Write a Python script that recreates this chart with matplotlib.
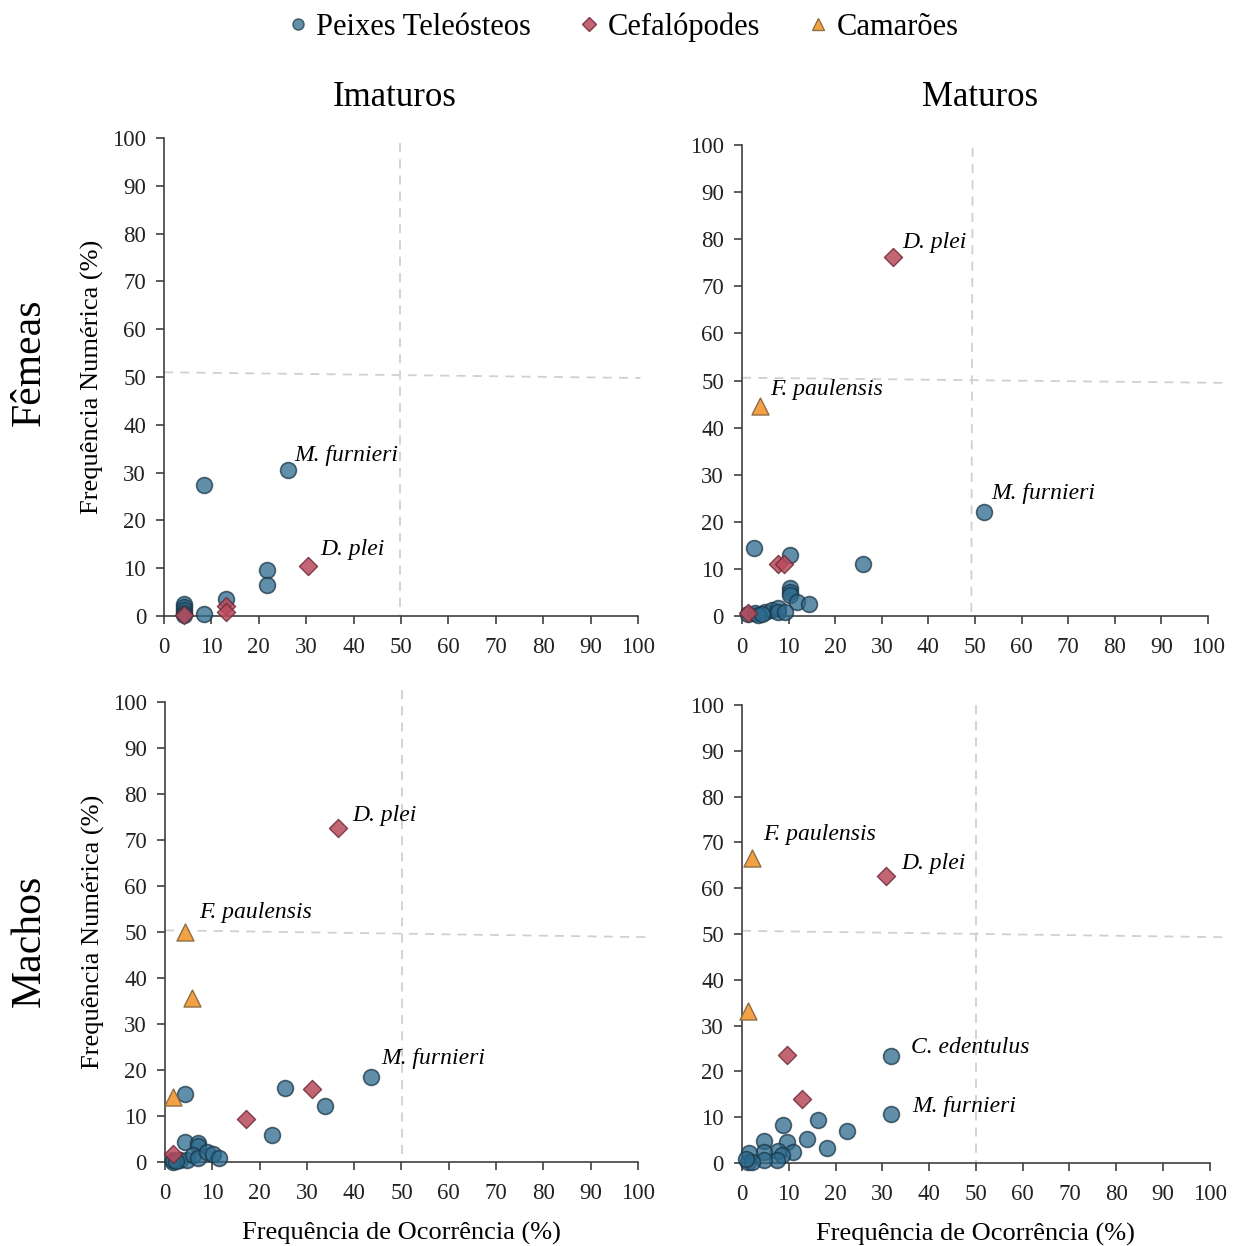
import matplotlib.pyplot as plt
from matplotlib.lines import Line2D

plt.rcParams['font.family'] = ['Liberation Serif', 'DejaVu Serif']

# Frequência de Ocorrência (x) e Frequência Numérica (y), em %
# Fêmeas imaturas
fi_fish_x = [8.4, 26.2, 21.7, 21.7, 13.1, 4.2, 4.2, 4.2, 4.2, 4.2, 8.4]
fi_fish_y = [27.4, 30.5, 9.6, 6.5, 3.5, 2.5, 1.8, 1.2, 0.6, 0.2, 0.4]
fi_ceph_x = [30.4, 13.1, 13.1, 4.2]
fi_ceph_y = [10.5, 2.0, 0.8, 0.3]
fi_shrimp_x = []
fi_shrimp_y = []

# Fêmeas maturas
fm_fish_x = [52.0, 2.6, 10.3, 26.0, 10.3, 10.3, 10.3, 11.7, 14.4, 1.2, 2.8, 5.0, 6.4, 7.8, 7.8, 9.2, 3.5, 4.2]
fm_fish_y = [22.0, 14.5, 12.9, 11.0, 5.9, 5.2, 4.4, 3.0, 2.5, 0.5, 0.6, 0.9, 1.3, 1.7, 0.9, 0.9, 0.3, 0.5]
fm_ceph_x = [32.5, 7.7, 9.1, 1.2]
fm_ceph_y = [76.2, 11.0, 11.0, 0.7]
fm_shrimp_x = [3.9]
fm_shrimp_y = [44.6]

# Machos imaturos
mi_fish_x = [4.2, 25.4, 43.6, 33.8, 22.6, 4.2, 7.0, 7.0, 1.6, 3.2, 4.6, 6.0, 7.0, 8.8, 10.2, 11.5, 1.6, 2.4]
mi_fish_y = [14.9, 16.0, 18.5, 12.2, 5.9, 4.4, 4.1, 3.5, 0.1, 0.4, 0.4, 1.5, 0.8, 2.2, 1.7, 0.8, 0.5, 0.2]
mi_ceph_x = [36.6, 31.1, 17.1, 1.6]
mi_ceph_y = [72.6, 15.9, 9.3, 1.7]
mi_shrimp_x = [4.2, 5.7, 1.6]
mi_shrimp_y = [50.0, 35.7, 14.2]

# Machos maturos
mm_fish_x = [31.8, 31.8, 16.2, 8.8, 22.5, 4.6, 9.7, 14.0, 18.1, 10.8, 7.6, 8.5, 7.4, 4.6, 4.6, 1.4, 1.2, 2.2, 0.8]
mm_fish_y = [23.4, 10.7, 9.4, 8.4, 7.0, 4.9, 4.5, 5.2, 3.2, 2.3, 2.6, 1.7, 0.7, 2.5, 0.7, 2.1, 0.3, 0.3, 0.8]
mm_ceph_x = [30.8, 9.6, 12.9]
mm_ceph_y = [62.7, 23.6, 13.9]
mm_shrimp_x = [2.1, 1.3]
mm_shrimp_y = [66.6, 33.2]

# rótulos das espécies: (texto, x, y)
fi_labels = [('M. furnieri', 27.4, 32.4), ('D. plei', 32.9, 12.8)]
fm_labels = [('D. plei', 34.3, 78.1), ('F. paulensis', 6.0, 46.9), ('M. furnieri', 53.6, 24.8)]
mi_labels = [('D. plei', 39.5, 74.2), ('F. paulensis', 7.3, 53.0), ('M. furnieri', 45.7, 21.3)]
mm_labels = [('F. paulensis', 4.5, 70.5), ('D. plei', 34.0, 64.2),
             ('C. edentulus', 36.1, 24.0), ('M. furnieri', 36.3, 11.1)]

ticks = [0, 10, 20, 30, 40, 50, 60, 70, 80, 90, 100]

fish_style = dict(marker='o', s=130, facecolor='#2c6a8c', edgecolor='#1a3547', alpha=0.75, linewidths=1.2)
ceph_style = dict(marker='D', s=85, facecolor='#b84a5c', edgecolor='#6e2a35', alpha=0.85, linewidths=1.0)
shrimp_style = dict(marker='^', s=150, facecolor='#f49c3c', edgecolor='#8a6a40', alpha=0.95, linewidths=1.0)

panels = [
    # (posição, peixes, cefalópodes, camarões, rótulos, linha horizontal, linha vertical)
    ([0.1322, 0.5056, 0.382, 0.3836], (fi_fish_x, fi_fish_y), (fi_ceph_x, fi_ceph_y),
     (fi_shrimp_x, fi_shrimp_y), fi_labels, ((0, 51.0), (100.5, 49.8)), ((49.8, 99.0), (49.8, 0))),
    ([0.5979, 0.5056, 0.3755, 0.378], (fm_fish_x, fm_fish_y), (fm_ceph_x, fm_ceph_y),
     (fm_shrimp_x, fm_shrimp_y), fm_labels, ((0, 50.6), (103.5, 49.5)), ((49.5, 99.4), (49.2, 0))),
    ([0.133, 0.0674, 0.381, 0.369], (mi_fish_x, mi_fish_y), (mi_ceph_x, mi_ceph_y),
     (mi_shrimp_x, mi_shrimp_y), mi_labels, ((0, 50.4), (102.5, 48.9)), ((50.1, 102.6), (50.1, 0))),
    ([0.5979, 0.0666, 0.377, 0.3676], (mm_fish_x, mm_fish_y), (mm_ceph_x, mm_ceph_y),
     (mm_shrimp_x, mm_shrimp_y), mm_labels, ((0, 50.7), (103.0, 49.3)), ((50.0, 100.0), (50.0, 0))),
]

fig = plt.figure(figsize=(12.41, 12.46), dpi=100)

axes = []
for pos, fish, ceph, shrimp, labels, hline, vline in panels:
    ax = fig.add_axes(pos)
    ax.set_xlim(0, 100)
    ax.set_ylim(0, 100)
    ax.set_xticks(ticks)
    ax.set_yticks(ticks)
    ax.tick_params(direction='out', length=6, width=1.2, color='#404040',
                   labelsize=16.5, labelcolor='#222222')
    ax.tick_params(axis='x', pad=9)
    ax.tick_params(axis='y', pad=7)
    for side in ['top', 'right']:
        ax.spines[side].set_visible(False)
    for side in ['left', 'bottom']:
        ax.spines[side].set_color('#404040')
        ax.spines[side].set_linewidth(1.2)

    # linhas de referência tracejadas
    ax.plot([hline[0][0], hline[1][0]], [hline[0][1], hline[1][1]], ls=(0, (5, 4)),
            color='#d0d0d0', lw=1.3, clip_on=False, zorder=1)
    ax.plot([vline[0][0], vline[1][0]], [vline[0][1], vline[1][1]], ls=(0, (5, 4)),
            color='#d0d0d0', lw=1.3, clip_on=False, zorder=1)

    ax.scatter(fish[0], fish[1], zorder=3, clip_on=False, **fish_style)
    ax.scatter(ceph[0], ceph[1], zorder=4, clip_on=False, **ceph_style)
    if len(shrimp[0]):
        ax.scatter(shrimp[0], shrimp[1], zorder=4, clip_on=False, **shrimp_style)

    for txt, x, y in labels:
        ax.text(x, y, txt, fontsize=17, style='italic', va='baseline', ha='left')
    axes.append(ax)

axes[0].set_ylabel('Frequência Numérica (%)', fontsize=19, labelpad=6)
axes[2].set_ylabel('Frequência Numérica (%)', fontsize=19, labelpad=6)
axes[2].set_xlabel('Frequência de Ocorrência (%)', fontsize=19, labelpad=13)
axes[3].set_xlabel('Frequência de Ocorrência (%)', fontsize=19, labelpad=13)

fig.text(0.318, 0.922, 'Imaturos', fontsize=25, ha='center', va='center')
fig.text(0.790, 0.922, 'Maturos', fontsize=25, ha='center', va='center')
fig.text(0.024, 0.709, 'Fêmeas', fontsize=30, rotation=90, ha='center', va='center')
fig.text(0.024, 0.245, 'Machos', fontsize=30, rotation=90, ha='center', va='center')

handles = [
    Line2D([], [], ls='none', marker='o', markersize=8, markerfacecolor='#2c6a8c',
           markeredgecolor='#1a3547', alpha=0.75),
    Line2D([], [], ls='none', marker='D', markersize=7, markerfacecolor='#b84a5c',
           markeredgecolor='#6e2a35', alpha=0.85),
    Line2D([], [], ls='none', marker='^', markersize=9, markerfacecolor='#f49c3c',
           markeredgecolor='#8a6a40', alpha=0.95),
]
fig.legend(handles, ['Peixes Teleósteos', 'Cefalópodes', 'Camarões'], loc='center',
           bbox_to_anchor=(0.5, 0.978), ncol=3, frameon=False, fontsize=22,
           handletextpad=0.1, columnspacing=1.4, handlelength=1.0)

fig.savefig('out.png', dpi=100)
